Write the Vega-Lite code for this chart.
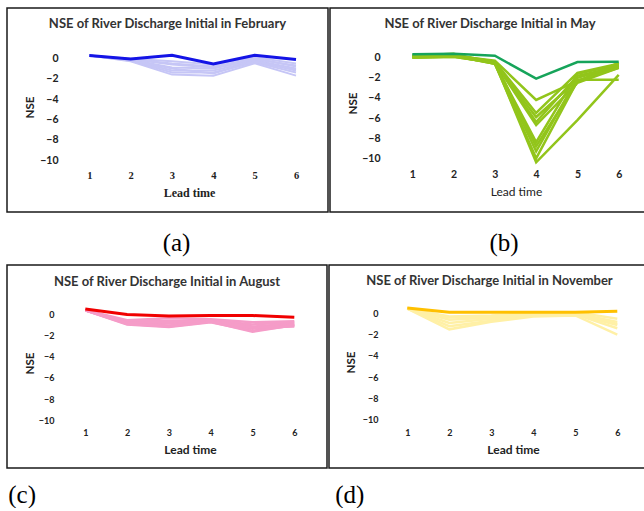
{
  "$schema": "https://vega.github.io/schema/vega-lite/v6.json",
  "padding": {"left": 6, "top": 7, "right": 0, "bottom": 0},
  "background": "white",
  "config": {
    "view": {"stroke": "#1a1a1a", "strokeWidth": 1.5},
    "axis": {"grid": false, "domain": false, "ticks": false, "tickSize": 0, "labelPadding": 0, "labelColor": "#222", "titleColor": "#222", "labelFont": "Lato", "titleFont": "Lato", "labelFontWeight": "bold", "titleFontWeight": "bold"},
    "title": {"color": "#222"}
  },
  "datasets": {
    "nse": [
      {"p":"a","m":"obs","lead":1,"nse":0.27},{"p":"a","m":"obs","lead":2,"nse":-0.07},{"p":"a","m":"obs","lead":3,"nse":0.3},{"p":"a","m":"obs","lead":4,"nse":-0.56},{"p":"a","m":"obs","lead":5,"nse":0.3},{"p":"a","m":"obs","lead":6,"nse":-0.13},
      {"p":"a","m":"a1","lead":1,"nse":0.27},{"p":"a","m":"a1","lead":2,"nse":-0.05},{"p":"a","m":"a1","lead":3,"nse":-0.3},{"p":"a","m":"a1","lead":4,"nse":-0.6},{"p":"a","m":"a1","lead":5,"nse":0.1},{"p":"a","m":"a1","lead":6,"nse":-0.5},
      {"p":"a","m":"a2","lead":1,"nse":0.27},{"p":"a","m":"a2","lead":2,"nse":-0.1},{"p":"a","m":"a2","lead":3,"nse":-0.6},{"p":"a","m":"a2","lead":4,"nse":-0.9},{"p":"a","m":"a2","lead":5,"nse":0.0},{"p":"a","m":"a2","lead":6,"nse":-0.8},
      {"p":"a","m":"a3","lead":1,"nse":0.27},{"p":"a","m":"a3","lead":2,"nse":-0.15},{"p":"a","m":"a3","lead":3,"nse":-0.9},{"p":"a","m":"a3","lead":4,"nse":-1.0},{"p":"a","m":"a3","lead":5,"nse":-0.2},{"p":"a","m":"a3","lead":6,"nse":-1.0},
      {"p":"a","m":"a4","lead":1,"nse":0.27},{"p":"a","m":"a4","lead":2,"nse":-0.2},{"p":"a","m":"a4","lead":3,"nse":-1.2},{"p":"a","m":"a4","lead":4,"nse":-1.2},{"p":"a","m":"a4","lead":5,"nse":-0.3},{"p":"a","m":"a4","lead":6,"nse":-1.2},
      {"p":"a","m":"a5","lead":1,"nse":0.27},{"p":"a","m":"a5","lead":2,"nse":-0.25},{"p":"a","m":"a5","lead":3,"nse":-1.4},{"p":"a","m":"a5","lead":4,"nse":-1.4},{"p":"a","m":"a5","lead":5,"nse":-0.4},{"p":"a","m":"a5","lead":6,"nse":-1.4},
      {"p":"a","m":"a6","lead":1,"nse":0.27},{"p":"a","m":"a6","lead":2,"nse":-0.3},{"p":"a","m":"a6","lead":3,"nse":-1.6},{"p":"a","m":"a6","lead":4,"nse":-1.7},{"p":"a","m":"a6","lead":5,"nse":-0.5},{"p":"a","m":"a6","lead":6,"nse":-1.7},
      {"p":"a","m":"a7","lead":1,"nse":0.27},{"p":"a","m":"a7","lead":2,"nse":-0.1},{"p":"a","m":"a7","lead":3,"nse":-0.5},{"p":"a","m":"a7","lead":4,"nse":-0.8},{"p":"a","m":"a7","lead":5,"nse":-0.1},{"p":"a","m":"a7","lead":6,"nse":-0.7},
      {"p":"a","m":"a8","lead":1,"nse":0.27},{"p":"a","m":"a8","lead":2,"nse":-0.2},{"p":"a","m":"a8","lead":3,"nse":-1.0},{"p":"a","m":"a8","lead":4,"nse":-1.5},{"p":"a","m":"a8","lead":5,"nse":-0.3},{"p":"a","m":"a8","lead":6,"nse":-1.1},

      {"p":"b","m":"obs","lead":1,"nse":0.34},{"p":"b","m":"obs","lead":2,"nse":0.4},{"p":"b","m":"obs","lead":3,"nse":0.2},{"p":"b","m":"obs","lead":4,"nse":-2.09},{"p":"b","m":"obs","lead":5,"nse":-0.43},{"p":"b","m":"obs","lead":6,"nse":-0.4},
      {"p":"b","m":"b1","lead":1,"nse":0.1},{"p":"b","m":"b1","lead":2,"nse":0.2},{"p":"b","m":"b1","lead":3,"nse":-0.3},{"p":"b","m":"b1","lead":4,"nse":-4.2},{"p":"b","m":"b1","lead":5,"nse":-2.3},{"p":"b","m":"b1","lead":6,"nse":-0.8},
      {"p":"b","m":"b2","lead":1,"nse":0.1},{"p":"b","m":"b2","lead":2,"nse":0.2},{"p":"b","m":"b2","lead":3,"nse":-0.4},{"p":"b","m":"b2","lead":4,"nse":-5.5},{"p":"b","m":"b2","lead":5,"nse":-1.5},{"p":"b","m":"b2","lead":6,"nse":-0.6},
      {"p":"b","m":"b3","lead":1,"nse":0.0},{"p":"b","m":"b3","lead":2,"nse":0.1},{"p":"b","m":"b3","lead":3,"nse":-0.5},{"p":"b","m":"b3","lead":4,"nse":-5.9},{"p":"b","m":"b3","lead":5,"nse":-2.2},{"p":"b","m":"b3","lead":6,"nse":-2.2},
      {"p":"b","m":"b4","lead":1,"nse":0.2},{"p":"b","m":"b4","lead":2,"nse":0.3},{"p":"b","m":"b4","lead":3,"nse":-0.4},{"p":"b","m":"b4","lead":4,"nse":-6.4},{"p":"b","m":"b4","lead":5,"nse":-1.8},{"p":"b","m":"b4","lead":6,"nse":-0.9},
      {"p":"b","m":"b5","lead":1,"nse":0.2},{"p":"b","m":"b5","lead":2,"nse":0.3},{"p":"b","m":"b5","lead":3,"nse":-0.5},{"p":"b","m":"b5","lead":4,"nse":-6.7},{"p":"b","m":"b5","lead":5,"nse":-2.5},{"p":"b","m":"b5","lead":6,"nse":-1.0},
      {"p":"b","m":"b6","lead":1,"nse":0.1},{"p":"b","m":"b6","lead":2,"nse":0.2},{"p":"b","m":"b6","lead":3,"nse":-0.6},{"p":"b","m":"b6","lead":4,"nse":-8.4},{"p":"b","m":"b6","lead":5,"nse":-1.6},{"p":"b","m":"b6","lead":6,"nse":-0.7},
      {"p":"b","m":"b7","lead":1,"nse":0.0},{"p":"b","m":"b7","lead":2,"nse":0.1},{"p":"b","m":"b7","lead":3,"nse":-0.5},{"p":"b","m":"b7","lead":4,"nse":-8.8},{"p":"b","m":"b7","lead":5,"nse":-2.4},{"p":"b","m":"b7","lead":6,"nse":-0.5},
      {"p":"b","m":"b8","lead":1,"nse":0.1},{"p":"b","m":"b8","lead":2,"nse":0.2},{"p":"b","m":"b8","lead":3,"nse":-0.6},{"p":"b","m":"b8","lead":4,"nse":-9.3},{"p":"b","m":"b8","lead":5,"nse":-2.0},{"p":"b","m":"b8","lead":6,"nse":-0.8},
      {"p":"b","m":"b9","lead":1,"nse":0.2},{"p":"b","m":"b9","lead":2,"nse":0.4},{"p":"b","m":"b9","lead":3,"nse":-0.6},{"p":"b","m":"b9","lead":4,"nse":-10.0},{"p":"b","m":"b9","lead":5,"nse":-2.3},{"p":"b","m":"b9","lead":6,"nse":-1.0},
      {"p":"b","m":"b10","lead":1,"nse":0.1},{"p":"b","m":"b10","lead":2,"nse":0.2},{"p":"b","m":"b10","lead":3,"nse":-0.5},{"p":"b","m":"b10","lead":4,"nse":-10.4},{"p":"b","m":"b10","lead":5,"nse":-6.2},{"p":"b","m":"b10","lead":6,"nse":-1.7},

      {"p":"c","m":"obs","lead":1,"nse":0.57},{"p":"c","m":"obs","lead":2,"nse":0.05},{"p":"c","m":"obs","lead":3,"nse":-0.1},{"p":"c","m":"obs","lead":4,"nse":-0.05},{"p":"c","m":"obs","lead":5,"nse":-0.05},{"p":"c","m":"obs","lead":6,"nse":-0.22},
      {"p":"c","m":"c1","lead":1,"nse":0.45},{"p":"c","m":"c1","lead":2,"nse":-0.5},{"p":"c","m":"c1","lead":3,"nse":-0.3},{"p":"c","m":"c1","lead":4,"nse":-0.4},{"p":"c","m":"c1","lead":5,"nse":-0.7},{"p":"c","m":"c1","lead":6,"nse":-0.6},
      {"p":"c","m":"c2","lead":1,"nse":0.45},{"p":"c","m":"c2","lead":2,"nse":-0.6},{"p":"c","m":"c2","lead":3,"nse":-0.6},{"p":"c","m":"c2","lead":4,"nse":-0.5},{"p":"c","m":"c2","lead":5,"nse":-0.9},{"p":"c","m":"c2","lead":6,"nse":-0.7},
      {"p":"c","m":"c3","lead":1,"nse":0.45},{"p":"c","m":"c3","lead":2,"nse":-0.7},{"p":"c","m":"c3","lead":3,"nse":-0.8},{"p":"c","m":"c3","lead":4,"nse":-0.5},{"p":"c","m":"c3","lead":5,"nse":-1.1},{"p":"c","m":"c3","lead":6,"nse":-0.8},
      {"p":"c","m":"c4","lead":1,"nse":0.45},{"p":"c","m":"c4","lead":2,"nse":-0.8},{"p":"c","m":"c4","lead":3,"nse":-1.0},{"p":"c","m":"c4","lead":4,"nse":-0.6},{"p":"c","m":"c4","lead":5,"nse":-1.3},{"p":"c","m":"c4","lead":6,"nse":-0.9},
      {"p":"c","m":"c5","lead":1,"nse":0.45},{"p":"c","m":"c5","lead":2,"nse":-0.9},{"p":"c","m":"c5","lead":3,"nse":-1.15},{"p":"c","m":"c5","lead":4,"nse":-0.7},{"p":"c","m":"c5","lead":5,"nse":-1.5},{"p":"c","m":"c5","lead":6,"nse":-1.0},
      {"p":"c","m":"c6","lead":1,"nse":0.45},{"p":"c","m":"c6","lead":2,"nse":-0.75},{"p":"c","m":"c6","lead":3,"nse":-0.65},{"p":"c","m":"c6","lead":4,"nse":-0.6},{"p":"c","m":"c6","lead":5,"nse":-1.2},{"p":"c","m":"c6","lead":6,"nse":-1.1},
      {"p":"c","m":"c7","lead":1,"nse":0.45},{"p":"c","m":"c7","lead":2,"nse":-0.85},{"p":"c","m":"c7","lead":3,"nse":-1.1},{"p":"c","m":"c7","lead":4,"nse":-0.65},{"p":"c","m":"c7","lead":5,"nse":-1.6},{"p":"c","m":"c7","lead":6,"nse":-0.95},

      {"p":"d","m":"obs","lead":1,"nse":0.5},{"p":"d","m":"obs","lead":2,"nse":0.1},{"p":"d","m":"obs","lead":3,"nse":0.1},{"p":"d","m":"obs","lead":4,"nse":0.1},{"p":"d","m":"obs","lead":5,"nse":0.1},{"p":"d","m":"obs","lead":6,"nse":0.2},
      {"p":"d","m":"d1","lead":1,"nse":0.45},{"p":"d","m":"d1","lead":2,"nse":-0.3},{"p":"d","m":"d1","lead":3,"nse":-0.2},{"p":"d","m":"d1","lead":4,"nse":0.0},{"p":"d","m":"d1","lead":5,"nse":0.1},{"p":"d","m":"d1","lead":6,"nse":-0.5},
      {"p":"d","m":"d2","lead":1,"nse":0.45},{"p":"d","m":"d2","lead":2,"nse":-0.6},{"p":"d","m":"d2","lead":3,"nse":-0.4},{"p":"d","m":"d2","lead":4,"nse":-0.1},{"p":"d","m":"d2","lead":5,"nse":0.0},{"p":"d","m":"d2","lead":6,"nse":-0.8},
      {"p":"d","m":"d3","lead":1,"nse":0.45},{"p":"d","m":"d3","lead":2,"nse":-0.9},{"p":"d","m":"d3","lead":3,"nse":-0.5},{"p":"d","m":"d3","lead":4,"nse":-0.2},{"p":"d","m":"d3","lead":5,"nse":-0.1},{"p":"d","m":"d3","lead":6,"nse":-1.1},
      {"p":"d","m":"d4","lead":1,"nse":0.45},{"p":"d","m":"d4","lead":2,"nse":-1.2},{"p":"d","m":"d4","lead":3,"nse":-0.7},{"p":"d","m":"d4","lead":4,"nse":-0.2},{"p":"d","m":"d4","lead":5,"nse":-0.1},{"p":"d","m":"d4","lead":6,"nse":-1.4},
      {"p":"d","m":"d5","lead":1,"nse":0.45},{"p":"d","m":"d5","lead":2,"nse":-1.5},{"p":"d","m":"d5","lead":3,"nse":-0.8},{"p":"d","m":"d5","lead":4,"nse":-0.3},{"p":"d","m":"d5","lead":5,"nse":-0.2},{"p":"d","m":"d5","lead":6,"nse":-2.0},
      {"p":"d","m":"d6","lead":1,"nse":0.45},{"p":"d","m":"d6","lead":2,"nse":-0.4},{"p":"d","m":"d6","lead":3,"nse":-0.3},{"p":"d","m":"d6","lead":4,"nse":-0.1},{"p":"d","m":"d6","lead":5,"nse":0.0},{"p":"d","m":"d6","lead":6,"nse":-1.0}
    ]
  },
  "spacing": 8,
  "vconcat": [
    {
      "spacing": 0,
      "hconcat": [
        {
          "title": {"text": "(a)", "orient": "bottom", "anchor": "middle", "dx": 9, "offset": 18, "baseline": "top", "font": "Liberation Serif", "fontSize": 25, "fontWeight": "normal", "color": "black"},
          "vconcat": [
            {
              "width": 321, "height": 204,
              "title": {"text": "NSE of River Discharge Initial in February", "orient": "top", "anchor": "middle", "frame": "group", "offset": -29, "baseline": "middle", "font": "Lato", "fontSize": 13, "fontWeight": "bold", "color": "#333"},
              "layer": [
                {
                  "mark": {"type": "rule", "color": "#D9D9D9", "strokeWidth": 1},
                  "encoding": {
                    "x": {"datum": 0.5, "type": "quantitative"},
                    "x2": {"datum": 6.5},
                    "y": {"datum": 0, "type": "quantitative"}
                  }
                },
                {
                  "data": {"name": "nse"},
                  "transform": [{"filter": "datum.p === 'a' && datum.m !== 'obs'"}],
                  "mark": {"type": "line", "color": "#C6C6F6", "strokeWidth": 2},
                  "encoding": {
                    "x": {"field": "lead", "type": "quantitative", "scale": {"domain": [-0.991, 6.774], "nice": false, "zero": false},
                      "axis": {"orient": "bottom", "offset": -37, "values": [1,2,3,4,5,6], "labelFont": "Liberation Serif", "labelFontSize": 10.5, "labelBaseline": "middle", "title": "Lead time", "titleFont": "Liberation Serif", "titleFontSize": 12, "titleX": 182, "titleY": 17, "titleBaseline": "middle"}},
                    "y": {"field": "nse", "type": "quantitative", "scale": {"domain": [-15.07, 4.93], "nice": false, "zero": false},
                      "axis": {"orient": "left", "offset": -51, "values": [-10,-8,-6,-4,-2,0], "labelFontSize": 10.5, "title": "NSE", "titleFontSize": 11.5, "titleX": -28, "titleY": 99, "titleBaseline": "middle", "titleAngle": 270}},
                    "detail": {"field": "m"}
                  }
                },
                {
                  "data": {"name": "nse"},
                  "transform": [{"filter": "datum.p === 'a' && datum.m === 'obs'"}],
                  "mark": {"type": "line", "color": "#1414E6", "strokeWidth": 3},
                  "encoding": {
                    "x": {"field": "lead", "type": "quantitative"},
                    "y": {"field": "nse", "type": "quantitative"}
                  }
                }
              ]
            }
          ]
        },
        {
          "title": {"text": "(b)", "orient": "bottom", "anchor": "middle", "dx": 14, "offset": 18, "baseline": "top", "font": "Liberation Serif", "fontSize": 25, "fontWeight": "normal", "color": "black"},
          "vconcat": [
            {
              "width": 320, "height": 204,
              "title": {"text": "NSE of River Discharge Initial in May", "orient": "top", "anchor": "middle", "frame": "group", "offset": -29, "baseline": "middle", "font": "Lato", "fontSize": 13, "fontWeight": "bold", "color": "#333"},
              "layer": [
                {
                  "mark": {"type": "rule", "color": "#D9D9D9", "strokeWidth": 1},
                  "encoding": {
                    "x": {"datum": 0.5, "type": "quantitative"},
                    "x2": {"datum": 6.5},
                    "y": {"datum": 0, "type": "quantitative"}
                  }
                },
                {
                  "data": {"name": "nse"},
                  "transform": [{"filter": "datum.p === 'b' && datum.m !== 'obs'"}],
                  "mark": {"type": "line", "color": "#92C51B", "strokeWidth": 2.5},
                  "encoding": {
                    "x": {"field": "lead", "type": "quantitative", "scale": {"domain": [-0.994, 6.758], "nice": false, "zero": false},
                      "axis": {"orient": "bottom", "offset": -38, "values": [1,2,3,4,5,6], "labelFontSize": 10.5, "labelBaseline": "middle", "title": "Lead time", "titleFontSize": 12, "titleFontWeight": "normal", "titleX": 186, "titleY": 17.5, "titleBaseline": "middle"}},
                    "y": {"field": "nse", "type": "quantitative", "scale": {"domain": [-15.34, 4.94], "nice": false, "zero": false},
                      "axis": {"orient": "left", "offset": -50, "values": [-10,-8,-6,-4,-2,0], "labelFontSize": 10.5, "title": "NSE", "titleFontSize": 11.5, "titleX": -27, "titleY": 95, "titleBaseline": "middle", "titleAngle": 270}},
                    "detail": {"field": "m"}
                  }
                },
                {
                  "data": {"name": "nse"},
                  "transform": [{"filter": "datum.p === 'b' && datum.m === 'obs'"}],
                  "mark": {"type": "line", "color": "#16A45A", "strokeWidth": 2.5},
                  "encoding": {
                    "x": {"field": "lead", "type": "quantitative"},
                    "y": {"field": "nse", "type": "quantitative"}
                  }
                }
              ]
            }
          ]
        }
      ]
    },
    {
      "spacing": 0,
      "hconcat": [
        {
          "title": {"text": "(c)", "orient": "bottom", "anchor": "start", "dx": 2, "offset": 14, "baseline": "top", "font": "Liberation Serif", "fontSize": 25, "fontWeight": "normal", "color": "black"},
          "vconcat": [
            {
              "width": 320, "height": 203,
              "title": {"text": "NSE of River Discharge Initial in August", "orient": "top", "anchor": "middle", "frame": "group", "offset": -30, "baseline": "middle", "font": "Lato", "fontSize": 13, "fontWeight": "bold", "color": "#333"},
              "layer": [
                {
                  "mark": {"type": "rule", "color": "#D9D9D9", "strokeWidth": 1},
                  "encoding": {
                    "x": {"datum": 0.5, "type": "quantitative"},
                    "x2": {"datum": 6.5},
                    "y": {"datum": 0, "type": "quantitative"}
                  }
                },
                {
                  "data": {"name": "nse"},
                  "transform": [{"filter": "datum.p === 'c' && datum.m !== 'obs'"}],
                  "mark": {"type": "line", "color": "#F59CC8", "strokeWidth": 2.5},
                  "encoding": {
                    "x": {"field": "lead", "type": "quantitative", "scale": {"domain": [-0.873, 6.782], "nice": false, "zero": false},
                      "axis": {"orient": "bottom", "offset": -36, "values": [1,2,3,4,5,6], "labelFontSize": 9, "labelBaseline": "middle", "title": "Lead time", "titleFontSize": 12, "titleX": 183, "titleY": 17, "titleBaseline": "middle"}},
                    "y": {"field": "nse", "type": "quantitative", "scale": {"domain": [-14.57, 4.76], "nice": false, "zero": false},
                      "axis": {"orient": "left", "offset": -47, "values": [-10,-8,-6,-4,-2,0], "labelFontSize": 9, "title": "NSE", "titleFontSize": 11.5, "titleX": -24, "titleY": 98, "titleBaseline": "middle", "titleAngle": 270}},
                    "detail": {"field": "m"}
                  }
                },
                {
                  "data": {"name": "nse"},
                  "transform": [{"filter": "datum.p === 'c' && datum.m === 'obs'"}],
                  "mark": {"type": "line", "color": "#F00000", "strokeWidth": 3},
                  "encoding": {
                    "x": {"field": "lead", "type": "quantitative"},
                    "y": {"field": "nse", "type": "quantitative"}
                  }
                }
              ]
            }
          ]
        },
        {
          "title": {"text": "(d)", "orient": "bottom", "anchor": "start", "dx": 7, "offset": 14, "baseline": "top", "font": "Liberation Serif", "fontSize": 25, "fontWeight": "normal", "color": "black"},
          "vconcat": [
            {
              "width": 321, "height": 203,
              "title": {"text": "NSE of River Discharge Initial in November", "orient": "top", "anchor": "middle", "frame": "group", "offset": -29, "baseline": "middle", "font": "Lato", "fontSize": 13, "fontWeight": "bold", "color": "#333"},
              "layer": [
                {
                  "mark": {"type": "rule", "color": "#D9D9D9", "strokeWidth": 1},
                  "encoding": {
                    "x": {"datum": 0.5, "type": "quantitative"},
                    "x2": {"datum": 6.5},
                    "y": {"datum": 0, "type": "quantitative"}
                  }
                },
                {
                  "data": {"name": "nse"},
                  "transform": [{"filter": "datum.p === 'd' && datum.m !== 'obs'"}],
                  "mark": {"type": "line", "color": "#FFF0A6", "strokeWidth": 2.5},
                  "encoding": {
                    "x": {"field": "lead", "type": "quantitative", "scale": {"domain": [-0.864, 6.779], "nice": false, "zero": false},
                      "axis": {"orient": "bottom", "offset": -36, "values": [1,2,3,4,5,6], "labelFontSize": 9, "labelBaseline": "middle", "title": "Lead time", "titleFontSize": 12, "titleX": 184, "titleY": 17, "titleBaseline": "middle"}},
                    "y": {"field": "nse", "type": "quantitative", "scale": {"domain": [-14.5, 4.53], "nice": false, "zero": false},
                      "axis": {"orient": "left", "offset": -49, "values": [-10,-8,-6,-4,-2,0], "labelFontSize": 9, "title": "NSE", "titleFontSize": 11.5, "titleX": -27, "titleY": 97, "titleBaseline": "middle", "titleAngle": 270}},
                    "detail": {"field": "m"}
                  }
                },
                {
                  "data": {"name": "nse"},
                  "transform": [{"filter": "datum.p === 'd' && datum.m === 'obs'"}],
                  "mark": {"type": "line", "color": "#FFC000", "strokeWidth": 3},
                  "encoding": {
                    "x": {"field": "lead", "type": "quantitative"},
                    "y": {"field": "nse", "type": "quantitative"}
                  }
                }
              ]
            }
          ]
        }
      ]
    }
  ]
}
